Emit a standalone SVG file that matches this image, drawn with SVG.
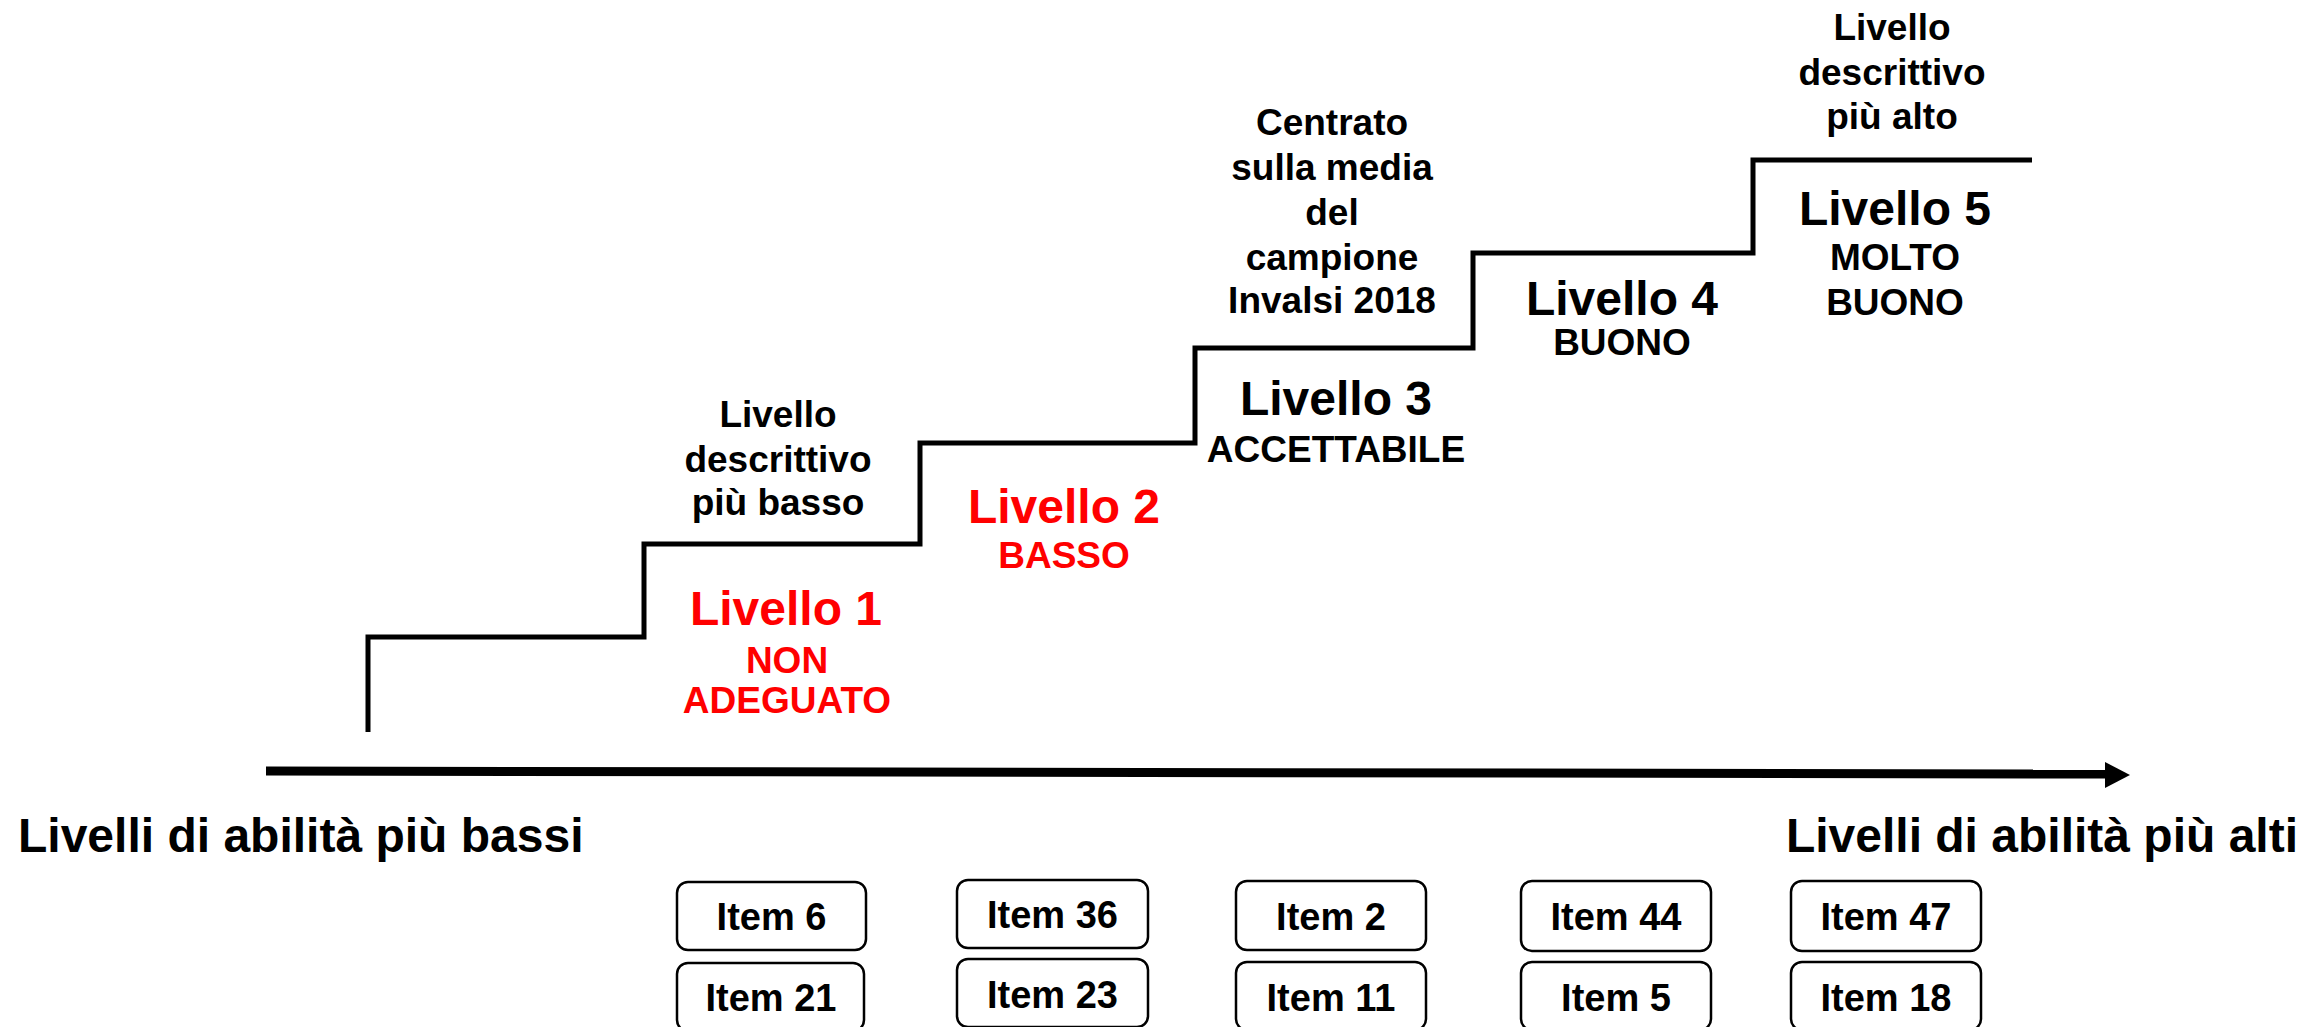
<svg xmlns="http://www.w3.org/2000/svg" width="2320" height="1027" viewBox="0 0 2320 1027">
<style>
text{font-family:"Liberation Sans",Arial,sans-serif;font-weight:bold;text-anchor:middle;fill:#000}
.red{fill:#FF0000}
.lv{font-size:48px}
.sub{font-size:37px}
.desc{font-size:37px}
.item{font-size:38px}
.axis{font-size:48px}
.box{fill:#fff;stroke:#000;stroke-width:2.5}
.stair{fill:none;stroke:#000;stroke-width:5}
</style>
<rect width="2320" height="1027" fill="#fff"/>
<g id="connectors">
<path class="stair" d="M368,732 V637 H644 V544 H920 V443 H1195 V348 H1473 V253 H1753 V160 H2032"/>
<line x1="266" y1="771" x2="2108" y2="774" stroke="#000" stroke-width="9"/>
<polygon points="2105,762 2130,775 2105,788" fill="#000"/>
</g>
<g id="desc-low">
<text class="desc" x="778" y="427">Livello</text>
<text class="desc" x="778" y="472">descrittivo</text>
<text class="desc" x="778" y="515">più basso</text>
</g>
<g id="desc-mid">
<text class="desc" x="1332" y="135">Centrato</text>
<text class="desc" x="1332" y="180">sulla media</text>
<text class="desc" x="1332" y="225">del</text>
<text class="desc" x="1332" y="270">campione</text>
<text class="desc" x="1332" y="313">Invalsi 2018</text>
</g>
<g id="desc-high">
<text class="desc" x="1892" y="40">Livello</text>
<text class="desc" x="1892" y="85">descrittivo</text>
<text class="desc" x="1892" y="129">più alto</text>
</g>
<g id="livello1">
<text class="lv red" x="786" y="625">Livello 1</text>
<text class="sub red" x="787" y="673">NON</text>
<text class="sub red" x="787" y="713">ADEGUATO</text>
</g>
<g id="livello2">
<text class="lv red" x="1064" y="523">Livello 2</text>
<text class="sub red" x="1064" y="568">BASSO</text>
</g>
<g id="livello3">
<text class="lv" x="1336" y="415">Livello 3</text>
<text class="sub" x="1336" y="462">ACCETTABILE</text>
</g>
<g id="livello4">
<text class="lv" x="1622" y="315">Livello 4</text>
<text class="sub" x="1622" y="355">BUONO</text>
</g>
<g id="livello5">
<text class="lv" x="1895" y="225">Livello 5</text>
<text class="sub" x="1895" y="270">MOLTO</text>
<text class="sub" x="1895" y="315">BUONO</text>
</g>
<g id="label-low"><text class="axis" x="18" y="852" style="text-anchor:start">Livelli di abilità più bassi</text></g>
<g id="label-high"><text class="axis" x="2298" y="852" style="text-anchor:end">Livelli di abilità più alti</text></g>
<g id="item6"><rect class="box" x="677" y="882" width="189" height="68" rx="11"/><text class="item" x="771.5" y="930">Item 6</text></g>
<g id="item21"><rect class="box" x="677" y="963" width="187" height="68" rx="11"/><text class="item" x="771" y="1011">Item 21</text></g>
<g id="item36"><rect class="box" x="957" y="880" width="191" height="68" rx="11"/><text class="item" x="1052.5" y="928">Item 36</text></g>
<g id="item23"><rect class="box" x="957" y="959" width="191" height="68" rx="11"/><text class="item" x="1052.5" y="1008">Item 23</text></g>
<g id="item2"><rect class="box" x="1236" y="881" width="190" height="69" rx="11"/><text class="item" x="1331" y="930">Item 2</text></g>
<g id="item11"><rect class="box" x="1236" y="962" width="190" height="68" rx="11"/><text class="item" x="1331" y="1011">Item 11</text></g>
<g id="item44"><rect class="box" x="1521" y="881" width="190" height="70" rx="11"/><text class="item" x="1616" y="930">Item 44</text></g>
<g id="item5"><rect class="box" x="1521" y="962" width="190" height="68" rx="11"/><text class="item" x="1616" y="1011">Item 5</text></g>
<g id="item47"><rect class="box" x="1791" y="881" width="190" height="70" rx="11"/><text class="item" x="1886" y="930">Item 47</text></g>
<g id="item18"><rect class="box" x="1791" y="962" width="190" height="68" rx="11"/><text class="item" x="1886" y="1011">Item 18</text></g>
</svg>
